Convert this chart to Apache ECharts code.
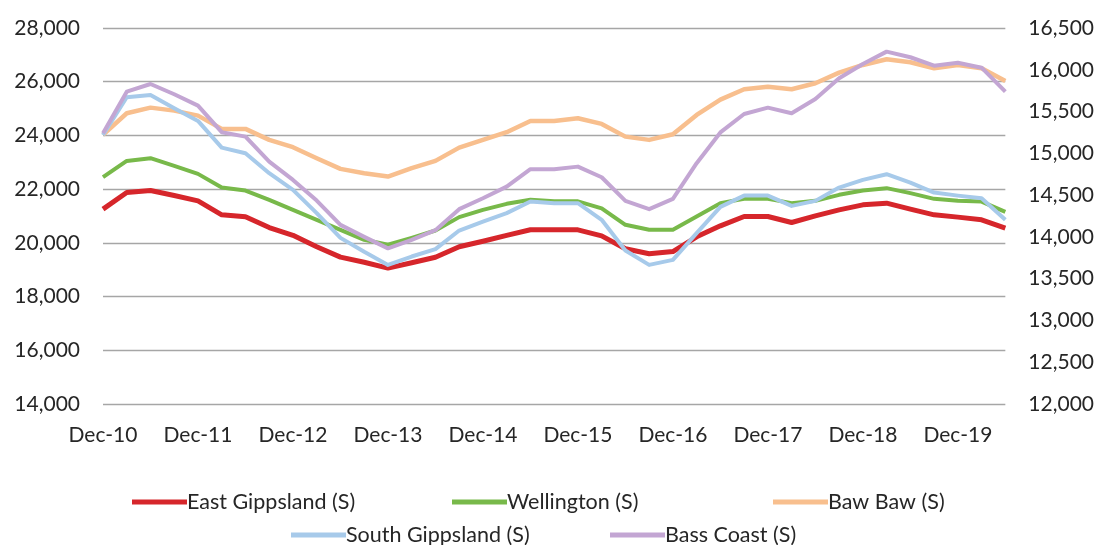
<!DOCTYPE html>
<html>
<head>
<meta charset="utf-8">
<script src="https://cdn.jsdelivr.net/npm/echarts@6/dist/echarts.min.js"></script>
<style>
  html, body { margin: 0; padding: 0; background: #ffffff; }
  #chart { width: 1097px; height: 545px; }
</style>
</head>
<body>
<div id="chart"></div>
<script>
// Quarterly periods, Dec-10 to Jun-20
const quarters = [
  'Dec-10','Mar-11','Jun-11','Sep-11','Dec-11','Mar-12','Jun-12','Sep-12',
  'Dec-12','Mar-13','Jun-13','Sep-13','Dec-13','Mar-14','Jun-14','Sep-14',
  'Dec-14','Mar-15','Jun-15','Sep-15','Dec-15','Mar-16','Jun-16','Sep-16',
  'Dec-16','Mar-17','Jun-17','Sep-17','Dec-17','Mar-18','Jun-18','Sep-18',
  'Dec-18','Mar-19','Jun-19','Sep-19','Dec-19','Mar-20','Jun-20'
];

// Left axis series
const eastGippsland = [
  21256, 21873, 21948, 21762, 21564, 21044, 20969, 20571,
  20281, 19853, 19470, 19277, 19061, 19258, 19463, 19853,
  20058, 20281, 20486, 20486, 20486, 20262, 19779, 19593,
  19678, 20225, 20634, 20980, 20980, 20757, 21006, 21230,
  21416, 21479, 21256, 21044, 20958, 20858, 20549
];
const wellington = [
  22446, 23052, 23153, 22866, 22569, 22059, 21948, 21602,
  21230, 20858, 20486, 20114, 19928, 20188, 20460, 20958,
  21230, 21453, 21602, 21546, 21546, 21285, 20672, 20486,
  20486, 20980, 21479, 21639, 21639, 21479, 21564, 21788,
  21948, 22037, 21851, 21639, 21564, 21538, 21155
];
const bawBaw = [
  24020, 24827, 25035, 24924, 24738, 24243, 24243, 23834,
  23562, 23153, 22755, 22595, 22468, 22781, 23052, 23547,
  23834, 24120, 24540, 24540, 24641, 24429, 23956, 23834,
  24046, 24764, 25333, 25720, 25816, 25720, 25943, 26337,
  26624, 26836, 26724, 26501, 26624, 26501, 26028
];

// Right axis series
const southGippsland = [
  15220, 15671, 15699, 15540, 15388, 15068, 15001, 14762,
  14562, 14284, 13988, 13821, 13665, 13765, 13853, 14076,
  14183, 14284, 14423, 14403, 14403, 14204, 13837, 13665,
  13725, 14045, 14359, 14494, 14494, 14371, 14431, 14590,
  14682, 14750, 14650, 14530, 14494, 14463, 14204
];
const bassCoast = [
  15241, 15738, 15830, 15707, 15571, 15253, 15200, 14901,
  14682, 14435, 14144, 14000, 13863, 13964, 14080, 14332,
  14463, 14602, 14810, 14810, 14841, 14714, 14431, 14332,
  14455, 14882, 15250, 15471, 15547, 15480, 15651, 15898,
  16069, 16217, 16150, 16049, 16085, 16025, 15738
];

const seriesNames = [
  'East Gippsland (S)', 'Wellington (S)', 'Baw Baw (S)',
  'South Gippsland (S)', 'Bass Coast (S)'
];
const seriesData = [eastGippsland, wellington, bawBaw, southGippsland, bassCoast];
const seriesAxis = [0, 0, 0, 1, 1];
const seriesColors = ['#d6262b', '#78b94a', '#f8bf8e', '#a7caea', '#c3a6d3'];
const seriesWidths = [5, 4, 4.5, 4, 4];

const FONT = 'Lato';
const TEXT = '#262626';

const fmt = v => v.toLocaleString('en-US');

// one legend per entry, laid out in two centred rows
const legendSlots = [
  { left: 127, top: 486 }, { left: 447, top: 486 }, { left: 768, top: 486 },
  { left: 286, top: 519 }, { left: 605, top: 519 }
];

const chart = echarts.init(document.getElementById('chart'), null, { renderer: 'canvas' });

chart.setOption({
  animation: false,
  backgroundColor: '#ffffff',
  textStyle: { fontFamily: FONT },
  grid: { left: 103, right: 90, top: 28, bottom: 141, containLabel: false },
  legend: legendSlots.map((p, i) => ({
    data: [seriesNames[i]],
    left: p.left,
    top: p.top,
    icon: 'rect',
    itemWidth: 55,
    itemHeight: 5,
    itemGap: 0,
    textStyle: { fontFamily: FONT, fontSize: 21.5, color: TEXT, padding: [0, 0, 0, -5] }
  })),
  xAxis: {
    type: 'category',
    data: quarters,
    boundaryGap: false,
    axisLine: { show: false },
    axisTick: { show: false },
    splitLine: { show: false },
    axisLabel: {
      interval: 3,
      margin: 21,
      fontFamily: FONT,
      fontSize: 21,
      color: TEXT
    }
  },
  yAxis: [
    {
      type: 'value',
      min: 14000,
      max: 28000,
      interval: 2000,
      axisLine: { show: false },
      axisTick: { show: false },
      splitLine: { lineStyle: { color: '#a6a6a6', width: 1.3 } },
      axisLabel: { margin: 23, fontFamily: FONT, fontSize: 21, color: TEXT, formatter: fmt }
    },
    {
      type: 'value',
      min: 12000,
      max: 16500,
      interval: 500,
      axisLine: { show: false },
      axisTick: { show: false },
      splitLine: { show: false },
      axisLabel: { margin: 23, fontFamily: FONT, fontSize: 21, color: TEXT, formatter: fmt }
    }
  ],
  series: seriesNames.map((name, i) => ({
    name,
    type: 'line',
    yAxisIndex: seriesAxis[i],
    data: seriesData[i],
    symbol: 'none',
    smooth: false,
    color: seriesColors[i],
    lineStyle: { width: seriesWidths[i], color: seriesColors[i], join: 'round' },
    z: 2 + i
  }))
});
</script>
</body>
</html>
